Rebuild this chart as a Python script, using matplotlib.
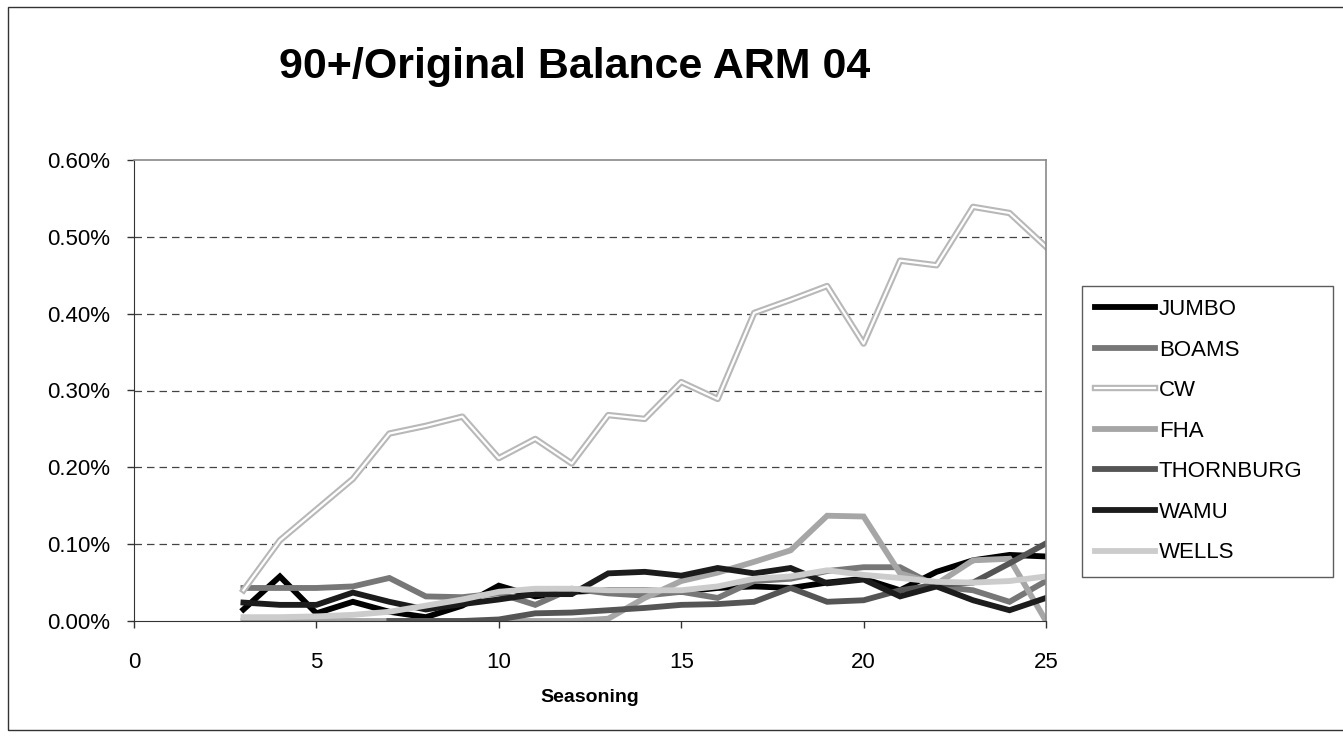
import matplotlib
matplotlib.use('Agg')
import matplotlib.pyplot as plt
import matplotlib.patheffects as pe
from matplotlib.patches import Rectangle
from matplotlib.ticker import FuncFormatter, MultipleLocator

plt.rcParams['font.family'] = ['Liberation Sans', 'DejaVu Sans']

# seasoning months for each series (values are in percent)
x_all = list(range(3, 26))
x_thorn = list(range(7, 26))

jumbo = [0.015, 0.058, 0.010, 0.025, 0.012, 0.005, 0.020, 0.046, 0.032, 0.038, 0.040, 0.040,
         0.038, 0.043, 0.045, 0.043, 0.050, 0.055, 0.040, 0.064, 0.079, 0.086, 0.084]
boams = [0.043, 0.043, 0.043, 0.045, 0.056, 0.032, 0.031, 0.036, 0.021, 0.042, 0.036, 0.033,
         0.038, 0.030, 0.052, 0.055, 0.065, 0.070, 0.070, 0.045, 0.040, 0.025, 0.052]
cw = [0.040, 0.105, 0.145, 0.185, 0.244, 0.254, 0.266, 0.212, 0.237, 0.205, 0.268, 0.263,
      0.311, 0.289, 0.401, 0.418, 0.436, 0.361, 0.469, 0.463, 0.539, 0.531, 0.487]
fha = [0.0, 0.0, 0.0, 0.0, 0.0, 0.0, 0.0, 0.0, 0.0, 0.0, 0.003, 0.030,
       0.052, 0.063, 0.077, 0.092, 0.137, 0.136, 0.062, 0.048, 0.079, 0.081, 0.0]
thornburg = [0.0, 0.0, 0.0, 0.002, 0.010, 0.011, 0.014, 0.017, 0.021, 0.022, 0.025,
             0.043, 0.025, 0.027, 0.040, 0.047, 0.050, 0.075, 0.101]
wamu = [0.024, 0.021, 0.021, 0.037, 0.025, 0.015, 0.022, 0.028, 0.035, 0.035, 0.062, 0.064,
        0.059, 0.069, 0.062, 0.069, 0.049, 0.054, 0.032, 0.045, 0.027, 0.014, 0.030]
wells = [0.005, 0.005, 0.006, 0.008, 0.012, 0.020, 0.028, 0.038, 0.042, 0.042, 0.040, 0.040,
         0.040, 0.045, 0.055, 0.058, 0.066, 0.060, 0.056, 0.051, 0.050, 0.052, 0.058]

fig = plt.figure(figsize=(13.43, 7.37), dpi=100)
ax = fig.add_axes([134 / 1343, 1 - 621 / 737, (1046 - 134) / 1343, (621 - 160) / 737])

lw = 4.2
ax.plot(x_all, jumbo, color='#000000', lw=lw, label='JUMBO', solid_joinstyle='miter')
ax.plot(x_all, boams, color='#777777', lw=lw, label='BOAMS', solid_joinstyle='miter')
ax.plot(x_all, cw, color='#ffffff', lw=1.6, label='CW',
        path_effects=[pe.Stroke(linewidth=4.6, foreground='#b8b8b8'), pe.Normal()])
ax.plot(x_all, fha, color='#a6a6a6', lw=lw, label='FHA', solid_joinstyle='miter')
ax.plot(x_thorn, thornburg, color='#555555', lw=lw, label='THORNBURG', solid_joinstyle='miter')
ax.plot(x_all, wamu, color='#1c1c1c', lw=lw, label='WAMU', solid_joinstyle='miter')
ax.plot(x_all, wells, color='#cccccc', lw=lw, label='WELLS', solid_joinstyle='miter')

ax.set_xlim(0, 25)
ax.set_ylim(0, 0.6)
ax.xaxis.set_major_locator(MultipleLocator(5))
ax.yaxis.set_major_locator(MultipleLocator(0.1))
ax.yaxis.set_major_formatter(FuncFormatter(lambda v, p: f'{v:.2f}%'))
ax.tick_params(labelsize=16, length=5, width=1, color='#333333')
ax.tick_params(axis='x', pad=17)
ax.tick_params(axis='y', pad=12)
for y in [0.1, 0.2, 0.3, 0.4, 0.5]:
    ax.axhline(y, color='#444444', lw=0.9, ls=(0, (6, 4)), zorder=0)

for side in ['top', 'right']:
    ax.spines[side].set_color('#8a8a8a')
    ax.spines[side].set_linewidth(1.2)
ax.spines['left'].set_color('#333333')
ax.spines['bottom'].set_color('#333333')

ax.set_xlabel('Seasoning', fontsize=14, fontweight='bold', labelpad=12)

fig.text(575 / 1343, 1 - 67 / 737, '90+/Original Balance ARM 04', ha='center', va='center',
         fontsize=31, fontweight='bold')

leg = fig.legend(loc='upper left', bbox_to_anchor=(1082 / 1343, 1 - 293 / 737, 251 / 1343, 0.01),
                 mode='expand', fontsize=16, frameon=True, fancybox=False, edgecolor='#333333',
                 handlelength=2.7, handletextpad=0.15, labelspacing=0.88, borderpad=0.6,
                 borderaxespad=0)
leg.get_frame().set_linewidth(1)

fig.patches.append(Rectangle((8 / 1343, 7 / 737), 1340 / 1343, 723 / 737, transform=fig.transFigure,
                             fill=False, edgecolor='#333333', lw=1))

fig.savefig('out.png', dpi=100)
